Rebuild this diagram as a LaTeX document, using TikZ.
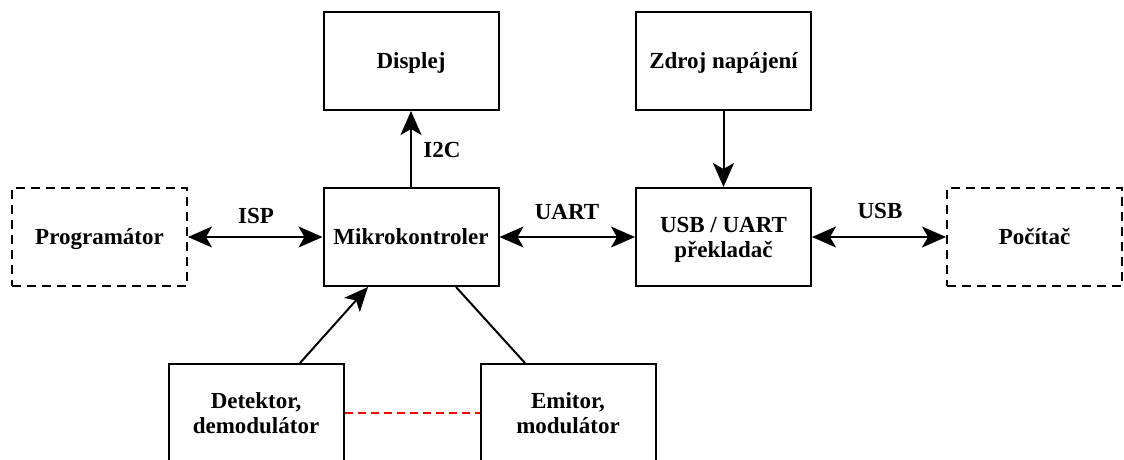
\documentclass[tikz,border=0pt]{standalone}
\usepackage{fontspec}
\setmainfont{Liberation Serif}
\usetikzlibrary{arrows.meta}
\begin{document}
\begin{tikzpicture}[x=1pt, y=-1pt,
  every node/.style={font=\fontsize{23}{25}\selectfont\bfseries, text=black},
  block/.style={draw=black, line width=2pt, fill=white, minimum width=175pt,
    minimum height=98pt, inner sep=0pt, align=center, text height=15pt, text depth=0pt},
  twoline/.style={text height=40pt, text depth=0pt},
  extblock/.style={block, dash pattern=on 9pt off 6pt},
  lbl/.style={anchor=base, inner sep=0pt},
  conn/.style={line width=2pt, draw=black},
  tip/.style={-{Stealth[length=24pt, width=21pt, inset=6pt]}},
  bitip/.style={{Stealth[length=24pt, width=21pt, inset=6pt]}-{Stealth[length=24pt, width=21pt, inset=6pt]}},
  link/.style={draw=red, line width=2pt, dash pattern=on 8.5pt off 4.5pt}
]
\useasboundingbox (0,0) rectangle (1124,459);
\clip (0,0) rectangle (1124,459);

% blocks
\node[extblock] (prog) at (99.5,237) {Programátor};
\node[block] (mcu) at (411,237) {Mikrokontroler};
\node[block, twoline] (conv) at (723.5,237) {USB / UART\\překladač};
\node[extblock] (pc) at (1034.5,237) {Počítač};
\node[block] (disp) at (411,61) {Displej};
\node[block] (psu) at (723.5,61) {Zdroj napájení};
\node[block, twoline] (det) at (256,413) {Detektor,\\demodulátor};
\node[block, twoline] (emit) at (568,413) {Emitor,\\modulátor};

% connections
\draw[conn, bitip] (prog) -- (mcu);
\draw[conn, bitip] (mcu) -- (conv);
\draw[conn, bitip] (conv) -- (pc);
\draw[conn, tip] (mcu) -- (disp);
\draw[conn, tip] (psu) -- (conv);
\draw[conn, tip] ([xshift=44pt]det.north) -- ([xshift=-43pt]mcu.south);
\draw[conn] ([xshift=45pt]mcu.south) -- ([xshift=-43pt]emit.north);
\draw[link] (det) -- (emit);

% bus labels
\node[lbl] (lisp) at (256,223) {ISP};
\node[lbl] (luart) at (567,219) {UART};
\node[lbl] (lusb) at (880,218) {USB};
\node[lbl] (li2c) at (442,157) {I2C};
\end{tikzpicture}
\end{document}
